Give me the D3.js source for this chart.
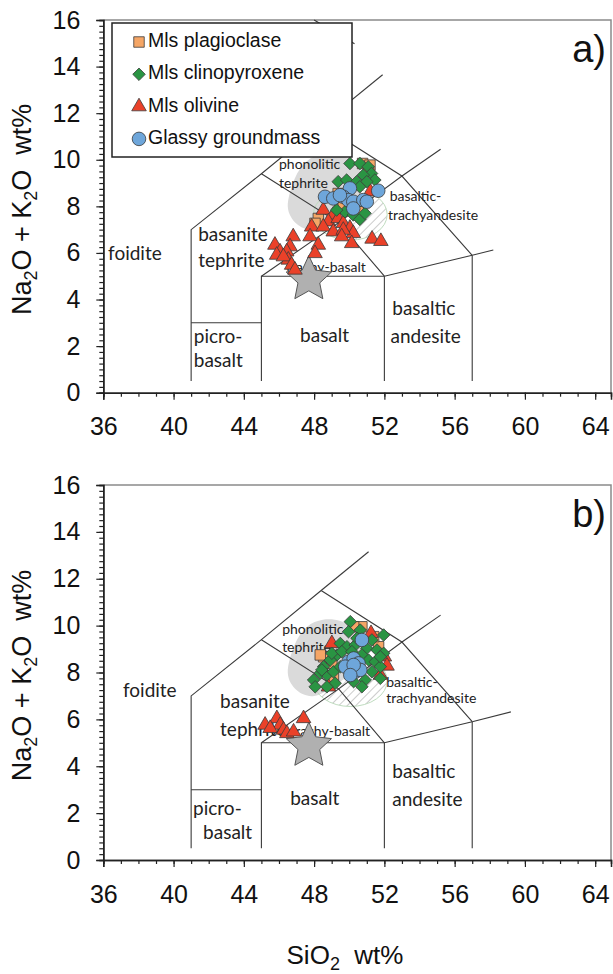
<!DOCTYPE html>
<html>
<head>
<meta charset="utf-8">
<script src="https://cdn.jsdelivr.net/npm/d3@7"></script>
<style>
  body { margin: 0; background: #fff; }
  svg { display: block; }
  .tick text { font-family: "Liberation Sans", Arial, sans-serif; font-size: 25px; fill: #111; }
  .lbl { font-family: Lato, "Open Sans", sans-serif; fill: #222; }
</style>
</head>
<body>
<div id="graf"></div>
<script>
const W = 613, H = 974

// Data
const xTicks = [36, 40, 44, 48, 52, 56, 60, 64]
const yTicks = [0, 2, 4, 6, 8, 10, 12, 14, 16]

const series = ["Mls plagioclase", "Mls clinopyroxene", "Mls olivine", "Glassy groundmass"]

// panel a)
const plagA = [[50.76, 9.84], [51.18, 9.77], [51.1, 9.5], [49.47, 7.91], [48.24, 7.48], [48.05, 7.27], [50.51, 7.77], [49.37, 8.55], [49.66, 8.05]]
const cpxA = [[50.04, 9.84], [50.61, 9.84], [51.08, 9.7], [51.27, 9.41], [50.8, 9.34], [51.46, 9.13], [49.37, 9.06], [49.85, 9.13],
  [50.42, 9.06], [51.0, 9.06], [50.6, 8.84], [49.76, 7.77], [50.23, 7.63], [50.6, 7.44], [49.28, 7.84], [50.9, 7.7]]
const olA = [[48.52, 7.84], [49.09, 7.63], [48.81, 7.34], [49.37, 7.48], [49.66, 7.27], [50.04, 7.06], [50.23, 6.84], [47.86, 7.12],
  [48.52, 7.12], [49.09, 6.91], [49.66, 6.98], [49.57, 6.7], [50.14, 6.41], [46.81, 6.7], [47.77, 6.7], [48.24, 6.34],
  [48.05, 5.98], [46.63, 6.27], [45.77, 6.34], [46.06, 6.05], [46.44, 6.05], [45.87, 5.91], [46.53, 5.7], [46.25, 5.84],
  [46.72, 5.48], [46.91, 5.27], [51.2, 8.63], [51.3, 6.6], [51.8, 6.5]]
const glassA = [[50.04, 8.77], [48.62, 8.41], [49.09, 8.34], [49.66, 8.41], [49.94, 8.27], [50.23, 8.2], [50.8, 8.27], [51.65, 8.67],
  [50.23, 7.91], [49.47, 8.48], [51.0, 8.2]]

// panel b)
const plagB = [[50.72, 9.95], [51.67, 9.1], [48.54, 8.67], [49.01, 7.75], [50.25, 9.95], [51.39, 9.53], [48.35, 8.75], [49.1, 7.82], [49.01, 8.39]]
const cpxB = [[50.06, 10.17], [50.63, 9.81], [49.96, 9.74], [51.96, 9.6], [51.29, 9.39], [49.49, 9.24], [49.87, 9.1], [50.34, 9.17],
  [51.0, 9.03], [51.58, 8.96], [51.96, 8.82], [49.3, 8.75], [48.92, 8.53], [48.54, 8.25], [48.35, 7.97], [47.97, 7.68],
  [48.06, 7.39], [48.73, 7.89], [49.1, 8.03], [49.49, 8.25], [49.87, 8.39], [50.72, 8.75], [51.1, 8.53], [51.48, 8.46],
  [51.77, 8.25], [51.29, 8.03], [51.77, 7.75], [50.91, 7.68], [50.72, 7.39], [50.25, 7.61], [49.2, 7.54], [48.73, 7.39],
  [48.44, 8.11], [49.01, 8.82], [49.58, 8.89], [50.15, 8.89], [51.77, 8.67], [50.44, 9.46]]
const olB = [[45.21, 5.76], [45.88, 6.04], [46.07, 5.76], [45.5, 5.62], [46.26, 5.55], [46.45, 5.4], [46.83, 5.47], [47.4, 6.04],
  [49.01, 9.24], [51.24, 9.67], [52.0, 8.67], [52.15, 8.28], [48.82, 7.39], [51.77, 7.89]]
const glassB = [[50.72, 9.39], [49.96, 8.46], [50.25, 8.6], [50.53, 8.39], [50.06, 8.18], [50.34, 8.03], [49.77, 8.25], [50.63, 8.11],
  [50.25, 8.32], [50.06, 7.89]]

// TAS field boundaries (SiO2, Na2O+K2O), shared by both panels
const tasLines = [
  [[41, 0.5], [41, 7], [45, 9.4], [48.4, 11.5]],
  [[41, 3], [45, 3]],
  [[45, 0.5], [45, 5], [52, 5], [57, 5.9]],
  [[52, 0.5], [52, 5]],
  [[57, 0.5], [57, 5.9]],
  [[45, 5], [49.4, 7.3], [52, 5]],
  [[45, 9.4], [49.4, 7.3], [53, 9.3], [57, 5.9]],
  [[48.4, 11.5], [53, 9.3], [55.2, 10.45]]
]
// cut-short boundaries, panel by panel
const tasA = [
  [[48.4, 11.5], [51.9, 13.65]],
  [[57, 5.9], [58.2, 6.13]],
  [[48, 16], [50.3, 14.98]]
]
const tasB = [
  [[48.4, 11.5], [51.1, 13.15]],
  [[57, 5.9], [59.2, 6.32]]
]

// reference fields: grey blob, hatched ellipse, star
const blob = [[48.5, 10.25], [49.5, 10.2], [50.3, 9.85], [50.8, 9.2], [50.5, 8.3], [49.3, 7.5], [48.0, 7.0], [47.0, 7.25], [46.5, 8.0], [46.9, 9.2], [47.6, 9.95]]
const hatch = { cx: 50.06, cy: 7.65, rx: 2.1, ry: 1.1 }
const star = [47.7, 4.95]

const labelsA = [
  { t: "foidite", x: 36.27, y: 5.9, s: 19 },
  { t: "basanite", x: 41.4, y: 6.72, s: 19 },
  { t: "tephrite", x: 41.4, y: 5.6, s: 19 },
  { t: "picro-", x: 41.15, y: 2.35, s: 19 },
  { t: "basalt", x: 41.15, y: 1.3, s: 19 },
  { t: "basalt", x: 47.2, y: 2.4, s: 19 },
  { t: "basaltic", x: 52.45, y: 3.55, s: 19 },
  { t: "andesite", x: 52.35, y: 2.35, s: 19 },
  { t: "trachy-basalt", x: 46.4, y: 5.35, s: 14 },
  { t: "phonolitic", x: 46.0, y: 9.77, s: 14 },
  { t: "tephrite", x: 46.0, y: 8.95, s: 14 },
  { t: "basaltic-", x: 52.3, y: 8.4, s: 14 },
  { t: "trachyandesite", x: 52.2, y: 7.58, s: 14 }
]
const labelsB = [
  { t: "foidite", x: 37.12, y: 7.17, s: 19 },
  { t: "basanite", x: 42.65, y: 6.7, s: 19 },
  { t: "tephrite", x: 42.65, y: 5.5, s: 19 },
  { t: "picro-", x: 41.11, y: 2.13, s: 19 },
  { t: "basalt", x: 41.68, y: 1.11, s: 19 },
  { t: "basalt", x: 46.64, y: 2.56, s: 19 },
  { t: "basaltic", x: 52.45, y: 3.71, s: 19 },
  { t: "andesite", x: 52.45, y: 2.52, s: 19 },
  { t: "trachy-basalt", x: 46.64, y: 5.46, s: 14 },
  { t: "phonolitic", x: 46.18, y: 9.81, s: 14 },
  { t: "tephrite", x: 46.18, y: 9.04, s: 14 },
  { t: "basaltic-", x: 52.1, y: 7.55, s: 14 },
  { t: "trachyandesite", x: 52.1, y: 6.83, s: 14 }
]

// fat five-point star, used as a d3.symbol type
const fatStar = {
  draw(ctx, size) {
    const R = Math.sqrt(size / 2.2), r = R * 0.48
    for (let i = 0; i < 10; i++) {
      const a = -Math.PI / 2 + i * Math.PI / 5, rr = i % 2 ? r : R
      i ? ctx.lineTo(rr * Math.cos(a), rr * Math.sin(a)) : ctx.moveTo(rr * Math.cos(a), rr * Math.sin(a))
    }
    ctx.closePath()
  }
}

const fill = { "Mls plagioclase": "#f5a666", "Mls clinopyroxene": "#2a9443", "Mls olivine": "#ea4129", "Glassy groundmass": "#6ea6da" }
const shape = { "Mls plagioclase": d3.symbolSquare, "Mls clinopyroxene": d3.symbolDiamond2, "Mls olivine": d3.symbolTriangle, "Glassy groundmass": d3.symbolCircle }
const sz = { "Mls plagioclase": 110, "Mls clinopyroxene": 100, "Mls olivine": 92, "Glassy groundmass": 145 }

const svg = d3.select("#graf").append("svg").attr("width", W).attr("height", H)

const defs = svg.append("defs")
const pat = defs.append("pattern").attr("id", "hatch").attr("patternUnits", "userSpaceOnUse")
  .attr("width", 6).attr("height", 6).attr("patternTransform", "rotate(45)")
pat.append("line").attr("x1", 0).attr("y1", 0).attr("x2", 0).attr("y2", 6)
  .attr("stroke", "#a8a8a8").attr("stroke-width", 1.2)

const x = d3.scaleLinear().domain([36, 64.9]).range([103.3, 611])

function panel(yr, data, extra, labels, tag) {
  const y = d3.scaleLinear().domain([0, 16]).range(yr)
  const g = svg.append("g")

  // frame top/right
  g.append("path")
    .attr("d", `M${x(36)},${y(16)}H${x(64.9)}V${y(0)}`)
    .attr("fill", "none").attr("stroke", "#8a8a8a").attr("stroke-width", 1.5)

  // reference fields
  const ell = () => g.append("ellipse")
    .attr("cx", x(hatch.cx)).attr("cy", y(hatch.cy))
    .attr("rx", x(hatch.cx + hatch.rx) - x(hatch.cx)).attr("ry", y(hatch.cy - hatch.ry) - y(hatch.cy))
  ell().attr("fill", "url(#hatch)")
  g.append("path")
    .attr("d", d3.line().x(d => x(d[0])).y(d => y(d[1])).curve(d3.curveCardinalClosed)(blob))
    .attr("fill", "#dadada")
  ell().attr("fill", "none").attr("stroke", "#bfdcbf").attr("stroke-width", 1)

  // TAS lines
  const line = d3.line().x(d => x(d[0])).y(d => y(d[1]))
  g.selectAll(".tas").data(tasLines.concat(extra)).join("path")
    .attr("class", "tas").attr("d", line)
    .attr("fill", "none").attr("stroke", "#3a3a3a").attr("stroke-width", 1.1)

  // field labels
  g.selectAll(".lbl").data(labels).join("text")
    .attr("class", "lbl")
    .attr("x", d => x(d.x)).attr("y", d => y(d.y))
    .attr("dominant-baseline", "middle")
    .style("font-size", d => d.s + "px")
    .text(d => d.t)

  // star
  g.append("path")
    .attr("d", d3.symbol().type(fatStar).size(1250)())
    .attr("transform", `translate(${x(star[0])},${y(star[1]) + 2})`)
    .attr("fill", "#b0b0b0").attr("stroke", "#555").attr("stroke-width", 1)

  // points
  const order = ["Mls plagioclase", "Mls olivine", "Mls clinopyroxene", "Glassy groundmass"]
  order.forEach(k => {
    g.selectAll(null).data(data[k]).join("path")
      .attr("d", d3.symbol().type(shape[k]).size(sz[k])())
      .attr("transform", d => `translate(${x(d[0])},${y(d[1])})`)
      .attr("fill", fill[k]).attr("stroke", "#3b3b3b").attr("stroke-width", 0.8)
  })

  // axes
  const yAxis = g.append("g").attr("transform", `translate(${x(36)},0)`)
    .call(d3.axisLeft(y).tickValues(yTicks).tickSize(7).tickPadding(16).tickFormat(d3.format("d")))
  const yMinor = g.append("g").attr("transform", `translate(${x(36)},0)`)
    .call(d3.axisLeft(y).tickValues(d3.range(0, 16.01, 0.25)).tickSize(4).tickFormat(""))
  const xAxis = g.append("g").attr("transform", `translate(0,${y(0)})`)
    .call(d3.axisBottom(x).tickValues(xTicks).tickSize(7).tickPadding(18).tickFormat(d3.format("d")))
  const xMinor = g.append("g").attr("transform", `translate(0,${y(0)})`)
    .call(d3.axisBottom(x).tickValues(d3.range(36, 65, 1)).tickSize(4).tickFormat(""))
  ;[yAxis, yMinor, xAxis, xMinor].forEach(a => {
    a.select(".domain").attr("stroke", "#222").attr("stroke-width", 1.5)
    a.selectAll(".tick line").attr("stroke", "#222").attr("stroke-width", 1.2)
  })

  // y title
  const yt = svg.append("text")
    .attr("transform", `translate(31,${(yr[0] + yr[1]) / 2 + 3}) rotate(-90)`)
    .attr("text-anchor", "middle").attr("xml:space", "preserve")
    .style("font-family", "Liberation Sans, Arial, sans-serif").style("font-size", "27px").attr("fill", "#111")
  yt.append("tspan").text("Na")
  yt.append("tspan").text("2").attr("font-size", "18px").attr("dy", 6)
  yt.append("tspan").text("O + K").attr("dy", -6)
  yt.append("tspan").text("2").attr("font-size", "18px").attr("dy", 6)
  yt.append("tspan").text("O  wt%").attr("dy", -6)

  // panel tag
  svg.append("text").attr("x", 606).attr("y", y(16) + 42).attr("text-anchor", "end")
    .style("font-family", "Liberation Sans, Arial, sans-serif").style("font-size", "38px").attr("fill", "#111")
    .text(tag)

  return g
}

panel([392.7, 20], { "Mls plagioclase": plagA, "Mls clinopyroxene": cpxA, "Mls olivine": olA, "Glassy groundmass": glassA }, tasA, labelsA, "a)")
panel([860, 485], { "Mls plagioclase": plagB, "Mls clinopyroxene": cpxB, "Mls olivine": olB, "Glassy groundmass": glassB }, tasB, labelsB, "b)")

// legend (panel a)
const lg = svg.append("g")
lg.append("rect").attr("x", 112).attr("y", 23).attr("width", 240).attr("height", 134)
  .attr("fill", "#fff").attr("stroke", "#222").attr("stroke-width", 1.5)
const item = lg.selectAll(".item").data(series).join("g")
  .attr("transform", (d, i) => `translate(139,${42 + i * 32.3})`)
item.append("path")
  .attr("d", d => d3.symbol().type(shape[d]).size(sz[d])())
  .attr("fill", d => fill[d]).attr("stroke", "#3b3b3b").attr("stroke-width", 0.8)
item.append("text").attr("x", 9).attr("dominant-baseline", "middle")
  .style("font-family", "Liberation Sans, Arial, sans-serif").style("font-size", "19.5px").attr("fill", "#111")
  .text(d => d)

// x title
const xt = svg.append("text").attr("x", 345).attr("y", 964).attr("text-anchor", "middle").attr("xml:space", "preserve")
  .style("font-family", "Liberation Sans, Arial, sans-serif").style("font-size", "26px").attr("fill", "#111")
xt.append("tspan").text("SiO")
xt.append("tspan").text("2").attr("font-size", "18px").attr("dy", 6)
xt.append("tspan").text("  wt%").attr("dy", -6)
</script>
</body>
</html>
